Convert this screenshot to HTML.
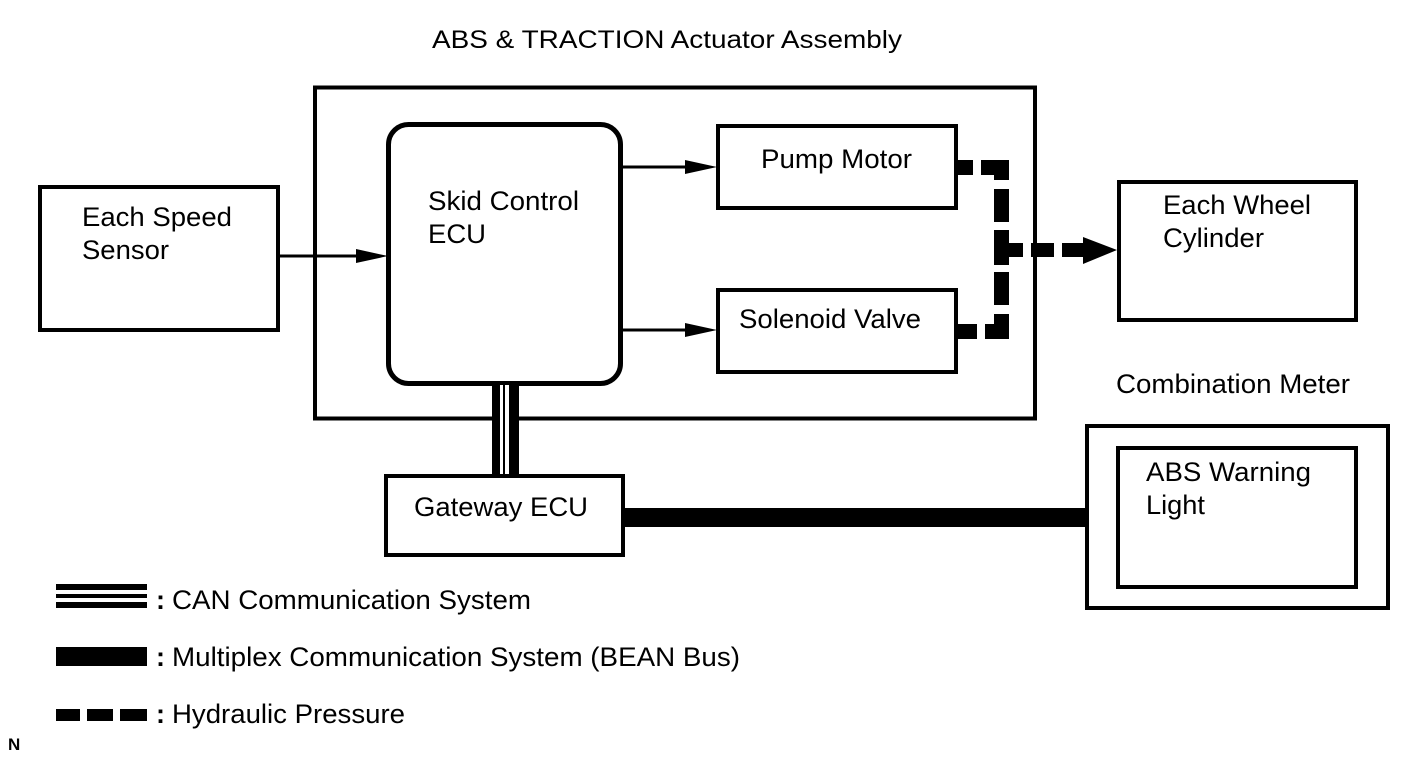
<!DOCTYPE html>
<html><head><meta charset="utf-8"><style>
html,body{margin:0;padding:0;background:#fff;}
svg{display:block;}
text{font-family:"Liberation Sans",Arial,sans-serif;font-size:27px;fill:#000;}
</style></head><body>
<svg width="1424" height="759" viewBox="0 0 1424 759" xmlns="http://www.w3.org/2000/svg">
<text x="432" y="48" style="font-size:25px" textLength="470" lengthAdjust="spacingAndGlyphs">ABS &amp; TRACTION Actuator Assembly</text>
<rect x="315" y="87.5" width="720" height="331" fill="none" stroke="#000" stroke-width="4"/>
<rect x="388.5" y="124.5" width="232" height="259" rx="20" fill="none" stroke="#000" stroke-width="5"/>
<text x="428" y="210" textLength="151" lengthAdjust="spacingAndGlyphs">Skid Control</text>
<text x="428" y="243" textLength="58" lengthAdjust="spacingAndGlyphs">ECU</text>
<rect x="40" y="187" width="238" height="143" fill="none" stroke="#000" stroke-width="4"/>
<text x="82" y="226" textLength="150" lengthAdjust="spacingAndGlyphs">Each Speed</text>
<text x="82" y="259" textLength="87" lengthAdjust="spacingAndGlyphs">Sensor</text>
<line x1="278" y1="256" x2="360" y2="256" stroke="#000" stroke-width="3"/>
<polygon points="356,249 388,256 356,263" fill="#000"/>
<rect x="718" y="126" width="238" height="82" fill="none" stroke="#000" stroke-width="4"/>
<text x="761" y="168" textLength="151" lengthAdjust="spacingAndGlyphs">Pump Motor</text>
<rect x="718" y="290" width="238" height="82" fill="none" stroke="#000" stroke-width="4"/>
<text x="739" y="328" textLength="182" lengthAdjust="spacingAndGlyphs">Solenoid Valve</text>
<line x1="622" y1="167" x2="690" y2="167" stroke="#000" stroke-width="3"/>
<polygon points="685,160 717,167 685,174" fill="#000"/>
<line x1="622" y1="330" x2="690" y2="330" stroke="#000" stroke-width="3"/>
<polygon points="685,323 717,330 685,337" fill="#000"/>
<g fill="#000">
<rect x="958" y="160" width="15" height="15"/>
<rect x="981" y="160" width="28" height="15"/>
<rect x="994" y="160" width="15" height="20"/>
<rect x="994" y="189" width="15" height="33"/>
<rect x="994" y="230" width="15" height="35"/>
<rect x="994" y="243" width="29" height="14"/>
<rect x="994" y="272" width="15" height="33"/>
<rect x="994" y="314" width="15" height="25"/>
<rect x="985" y="324" width="24" height="15"/>
<rect x="958" y="324" width="19" height="15"/>
<rect x="1031" y="243" width="23" height="14"/>
<rect x="1062" y="243" width="23" height="14"/>
<polygon points="1083,237 1117,250 1083,264"/>
</g>
<rect x="1119" y="182" width="237" height="138" fill="none" stroke="#000" stroke-width="4"/>
<text x="1163" y="214" textLength="148" lengthAdjust="spacingAndGlyphs">Each Wheel</text>
<text x="1163" y="247" textLength="101" lengthAdjust="spacingAndGlyphs">Cylinder</text>
<rect x="492" y="385" width="27" height="90" fill="#000"/>
<rect x="500" y="385" width="3" height="90" fill="#fff"/>
<rect x="505" y="385" width="4" height="90" fill="#fff"/>
<rect x="386" y="476" width="237" height="79" fill="none" stroke="#000" stroke-width="4"/>
<text x="414" y="516" textLength="174" lengthAdjust="spacingAndGlyphs">Gateway ECU</text>
<rect x="625" y="508" width="462" height="19" fill="#000"/>
<text x="1116" y="393" textLength="234" lengthAdjust="spacingAndGlyphs">Combination Meter</text>
<rect x="1087" y="426" width="301" height="182" fill="none" stroke="#000" stroke-width="4"/>
<rect x="1118" y="448" width="238" height="139" fill="none" stroke="#000" stroke-width="4"/>
<text x="1146" y="481" textLength="165" lengthAdjust="spacingAndGlyphs">ABS Warning</text>
<text x="1146" y="514" textLength="59" lengthAdjust="spacingAndGlyphs">Light</text>
<rect x="56" y="584" width="91" height="6" fill="#000"/>
<rect x="56" y="594" width="91" height="4" fill="#000"/>
<rect x="56" y="602" width="91" height="6" fill="#000"/>
<text x="156" y="609" style="font-weight:bold">:</text>
<text x="172" y="609" textLength="359" lengthAdjust="spacingAndGlyphs">CAN Communication System</text>
<rect x="56" y="647" width="91" height="19" fill="#000"/>
<text x="156" y="666" style="font-weight:bold">:</text>
<text x="172" y="666" textLength="568" lengthAdjust="spacingAndGlyphs">Multiplex Communication System (BEAN Bus)</text>
<rect x="56" y="709" width="24" height="12" fill="#000"/>
<rect x="87" y="709" width="26" height="12" fill="#000"/>
<rect x="120" y="709" width="27" height="12" fill="#000"/>
<text x="156" y="723" style="font-weight:bold">:</text>
<text x="172" y="723" textLength="233" lengthAdjust="spacingAndGlyphs">Hydraulic Pressure</text>
<text x="8" y="750" style="font-size:17px;font-weight:bold">N</text>
</svg>
</body></html>
